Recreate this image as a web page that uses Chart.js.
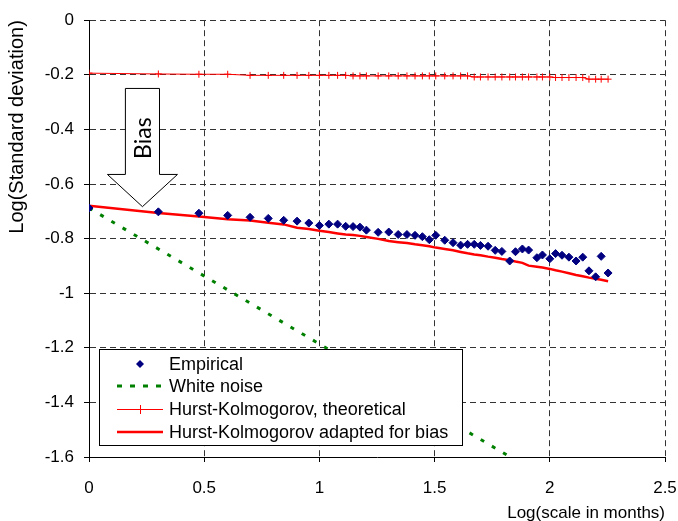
<!DOCTYPE html>
<html>
<head>
<meta charset="utf-8">
<script src="https://cdn.jsdelivr.net/npm/chart.js@4"></script>
<style>
  html, body { margin: 0; padding: 0; background: #fff; }
  #wrap { width: 678px; height: 521px; }
</style>
</head>
<body>
<div id="wrap"><canvas id="chart" width="678" height="521"></canvas></div>
<script>
// log10 of the aggregation scale k (months)
const logScale = [0, 0.301, 0.477, 0.602, 0.699, 0.778, 0.845, 0.903, 0.954, 1, 1.041, 1.079, 1.114, 1.146, 1.176, 1.204,
  1.255, 1.301, 1.342, 1.380, 1.415, 1.447, 1.477, 1.505, 1.544, 1.580, 1.613, 1.643, 1.672, 1.699, 1.732, 1.763,
  1.792, 1.826, 1.851, 1.881, 1.908, 1.944, 1.968, 2.0, 2.025, 2.053, 2.083, 2.114, 2.143, 2.170, 2.199, 2.223, 2.253];

const empirical = [-0.688, -0.702, -0.707, -0.715, -0.722, -0.726, -0.733, -0.736, -0.743, -0.752, -0.747, -0.747, -0.755, -0.756, -0.758, -0.769,
  -0.777, -0.776, -0.785, -0.785, -0.788, -0.793, -0.804, -0.788, -0.806, -0.815, -0.824, -0.821, -0.821, -0.825, -0.828, -0.843,
  -0.847, -0.882, -0.848, -0.838, -0.842, -0.870, -0.860, -0.874, -0.855, -0.861, -0.868, -0.882, -0.868, -0.918, -0.940, -0.865, -0.926];

const hkTheoretical = [-0.194, -0.197, -0.198, -0.198, -0.202, -0.202, -0.202, -0.202, -0.202, -0.202, -0.202, -0.202, -0.202, -0.204, -0.204, -0.204,
  -0.204, -0.204, -0.204, -0.204, -0.204, -0.204, -0.204, -0.204, -0.204, -0.204, -0.204, -0.204, -0.208, -0.208, -0.208, -0.208,
  -0.208, -0.208, -0.208, -0.208, -0.208, -0.208, -0.208, -0.208, -0.210, -0.210, -0.210, -0.210, -0.210, -0.216, -0.216, -0.216, -0.216];

const hkAdapted = [-0.680, -0.706, -0.719, -0.729, -0.734, -0.742, -0.748, -0.760, -0.765, -0.771, -0.776, -0.781, -0.785, -0.787, -0.790, -0.794,
  -0.801, -0.809, -0.813, -0.816, -0.821, -0.824, -0.828, -0.833, -0.838, -0.843, -0.849, -0.854, -0.858, -0.861, -0.866, -0.870,
  -0.875, -0.879, -0.884, -0.889, -0.899, -0.903, -0.906, -0.911, -0.916, -0.921, -0.927, -0.933, -0.938, -0.943, -0.947, -0.951, -0.956];

const whiteNoiseX = [0, 1, 2];
const whiteNoiseY = [-0.688, -1.186, -1.686];

const seriesNames = ['Empirical', 'White noise', 'Hurst-Kolmogorov, theoretical', 'Hurst-Kolmogorov adapted for bias'];

const xTicks = [0, 0.5, 1, 1.5, 2, 2.5];
const xTickLabels = ['0', '0.5', '1', '1.5', '2', '2.5'];
const yTicks = [-1.6, -1.4, -1.2, -1, -0.8, -0.6, -0.4, -0.2, 0];
const yTickLabels = ['-1.6', '-1.4', '-1.2', '-1', '-0.8', '-0.6', '-0.4', '-0.2', '0'];

const FONT = '"Liberation Sans", Arial, sans-serif';
const navy = '#000080';
const green = '#008000';
const red = '#ff0000';

function pairs(xs, ys) {
  return xs.map((x, i) => ({ x: x, y: ys[i] }));
}

// "Bias" block arrow, in data units
const bias = { x: 0.232, top: -0.25, neck: -0.565, tip: -0.683, shaft: 0.074, head: 0.152, textY: -0.432 };

const overlay = {
  id: 'overlay',
  afterDraw(chart) {
    const ctx = chart.ctx;
    const xs = chart.scales.x, ys = chart.scales.y;
    const area = chart.chartArea;

    // arrow
    const cx = xs.getPixelForValue(bias.x);
    const sl = xs.getPixelForValue(bias.x - bias.shaft);
    const sr = xs.getPixelForValue(bias.x + bias.shaft);
    const hl = xs.getPixelForValue(bias.x - bias.head);
    const hr = xs.getPixelForValue(bias.x + bias.head);
    const top = ys.getPixelForValue(bias.top);
    const neck = ys.getPixelForValue(bias.neck);
    const tip = ys.getPixelForValue(bias.tip);
    ctx.save();
    ctx.beginPath();
    ctx.moveTo(sl, top);
    ctx.lineTo(sr, top);
    ctx.lineTo(sr, neck);
    ctx.lineTo(hr, neck);
    ctx.lineTo(cx, tip);
    ctx.lineTo(hl, neck);
    ctx.lineTo(sl, neck);
    ctx.closePath();
    ctx.fillStyle = '#fff';
    ctx.fill();
    ctx.strokeStyle = '#000';
    ctx.lineWidth = 1;
    ctx.stroke();
    ctx.translate(cx + 1, ys.getPixelForValue(bias.textY));
    ctx.rotate(-Math.PI / 2);
    ctx.fillStyle = '#000';
    ctx.font = '23px Lato, "Open Sans", sans-serif';
    ctx.textAlign = 'center';
    ctx.textBaseline = 'middle';
    ctx.fillText('Bias', 0, 0);
    ctx.restore();

    // legend box
    const bx = area.left + 10, bw = 363, bh = 96;
    const by = area.bottom - 12 - bh;
    ctx.save();
    ctx.fillStyle = '#fff';
    ctx.fillRect(bx, by, bw, bh);
    ctx.strokeStyle = '#000';
    ctx.lineWidth = 1;
    ctx.strokeRect(Math.round(bx) + 0.5, Math.round(by) + 0.5, bw, bh);

    const rows = [15, 37, 60, 83];
    const s1 = bx + 18, s2 = bx + 64, mid = bx + 41;
    ctx.font = '18px ' + FONT;
    ctx.textBaseline = 'middle';
    seriesNames.forEach((name, i) => {
      const ry = by + rows[i];
      ctx.fillStyle = '#000';
      ctx.fillText(name, bx + 70, ry + 1);
      if (i === 0) {
        ctx.beginPath();
        ctx.moveTo(mid, ry - 4);
        ctx.lineTo(mid + 4, ry);
        ctx.lineTo(mid, ry + 4);
        ctx.lineTo(mid - 4, ry);
        ctx.closePath();
        ctx.fillStyle = navy;
        ctx.fill();
      } else if (i === 1) {
        ctx.beginPath();
        ctx.setLineDash([5, 8]);
        ctx.strokeStyle = green;
        ctx.lineWidth = 3;
        ctx.moveTo(s1, ry);
        ctx.lineTo(s2, ry);
        ctx.stroke();
        ctx.setLineDash([]);
      } else if (i === 2) {
        ctx.beginPath();
        ctx.strokeStyle = red;
        ctx.lineWidth = 1;
        ctx.moveTo(s1, ry + 0.5);
        ctx.lineTo(s2, ry + 0.5);
        ctx.moveTo(mid + 0.5, ry - 4);
        ctx.lineTo(mid + 0.5, ry + 5);
        ctx.stroke();
      } else {
        ctx.beginPath();
        ctx.strokeStyle = red;
        ctx.lineWidth = 2.5;
        ctx.moveTo(s1, ry);
        ctx.lineTo(s2, ry);
        ctx.stroke();
      }
    });
    ctx.restore();
  }
};

const gridOpts = {
  color: '#333',
  lineWidth: 1,
  drawTicks: true,
  tickLength: 5,
  tickColor: '#000',
  tickWidth: 1
};

new Chart(document.getElementById('chart'), {
  type: 'line',
  data: {
    datasets: [
      {
        label: seriesNames[0],
        data: pairs(logScale, empirical),
        showLine: false,
        pointStyle: 'rectRot',
        pointRadius: 4,
        pointBorderWidth: 1,
        pointBackgroundColor: navy,
        pointBorderColor: navy,
        borderColor: navy,
        backgroundColor: navy
      },
      {
        label: seriesNames[1],
        data: pairs(whiteNoiseX, whiteNoiseY),
        borderColor: green,
        borderWidth: 3,
        borderDash: [4, 9],
        pointRadius: 0,
        fill: false
      },
      {
        label: seriesNames[2],
        data: pairs(logScale, hkTheoretical),
        borderColor: red,
        borderWidth: 1,
        pointStyle: 'cross',
        pointRadius: 3.5,
        pointBorderWidth: 1,
        pointBorderColor: red,
        fill: false
      },
      {
        label: seriesNames[3],
        data: pairs(logScale, hkAdapted),
        borderColor: red,
        borderWidth: 2.5,
        pointRadius: 0,
        fill: false
      }
    ]
  },
  options: {
    responsive: false,
    animation: false,
    layout: { padding: { top: 18, right: 0, left: 0, bottom: 0 } },
    plugins: {
      legend: { display: false },
      tooltip: { enabled: false }
    },
    scales: {
      x: {
        type: 'linear',
        min: 0,
        max: 2.5,
        afterBuildTicks: s => { s.ticks = xTicks.map(v => ({ value: v })); },
        afterFit: s => { s.height = 64; s.paddingRight = 13; s.paddingLeft = 0; },
        ticks: {
          color: '#000',
          padding: 16,
          maxRotation: 0,
          font: { family: FONT, size: 17 },
          callback: v => xTickLabels[xTicks.indexOf(v)]
        },
        grid: gridOpts,
        border: { display: true, color: '#000', width: 1, dash: [6, 4] },
        title: {
          display: true,
          text: 'Log(scale in months)',
          align: 'end',
          color: '#000',
          font: { family: FONT, size: 17 },
          padding: { top: 0, bottom: -3 }
        }
      },
      y: {
        type: 'linear',
        min: -1.6,
        max: 0,
        afterBuildTicks: s => { s.ticks = yTicks.map(v => ({ value: v })); },
        afterFit: s => { s.width = 89; },
        ticks: {
          color: '#000',
          padding: 10,
          font: { family: FONT, size: 17 },
          callback: v => yTickLabels[yTicks.indexOf(v)]
        },
        grid: gridOpts,
        border: { display: true, color: '#000', width: 1, dash: [6, 4] },
        title: {
          display: true,
          text: 'Log(Standard deviation)',
          align: 'end',
          color: '#000',
          font: { family: FONT, size: 20 },
          padding: { top: 5, bottom: 0 }
        }
      }
    }
  },
  plugins: [overlay]
});
</script>
</body>
</html>
